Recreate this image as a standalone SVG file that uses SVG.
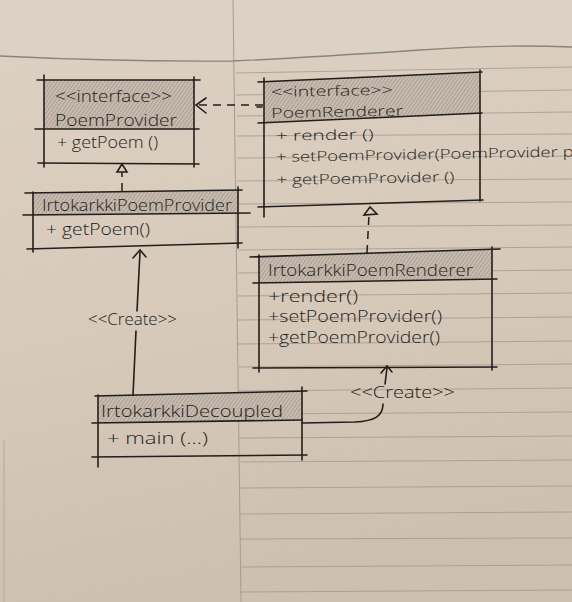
<svg xmlns="http://www.w3.org/2000/svg" width="572" height="602" viewBox="0 0 572 602">
  <defs>
    <linearGradient id="paper" x1="0" y1="0" x2="0.2" y2="1">
      <stop offset="0" stop-color="#ddd1c3"/>
      <stop offset="0.55" stop-color="#d7cabb"/>
      <stop offset="1" stop-color="#cdc0b1"/>
    </linearGradient>
    <!-- pencil shading used in the class name compartments -->
    <pattern id="hatch" patternUnits="userSpaceOnUse" width="3" height="3" patternTransform="rotate(35)">
      <line x1="0.7" y1="0" x2="0.7" y2="3" stroke="#5c544c" stroke-width="0.9" stroke-opacity="0.4"/>
    </pattern>
  </defs>
  <style>
    .ink { stroke: #231e1b; stroke-width: 1.6; fill: none; stroke-linecap: round; }
    .dash { stroke: #231e1b; stroke-width: 1.5; fill: none; stroke-dasharray: 8 6; }
    .rule { stroke: #a0968c; stroke-width: 1; stroke-opacity: 0.75; }
    .head { fill: #cbbfb2; }
    .shade { fill: url(#hatch); }
    text { font-family: "Open Sans", "Liberation Sans", sans-serif; font-weight: 300; font-size: 16px; fill: #221d1a; }
    .tight text { font-size: 14px; }
  </style>

  <!-- paper -->
  <rect width="572" height="602" fill="url(#paper)"/>
  <path d="M0,0 H572 V47 Q500,44 420,50 Q300,58 233,61 Q120,62 0,56 Z" fill="#dcd1c5"/>
  <path d="M0,56 Q120,62 233,61 Q300,58 420,50 Q500,44 572,47" fill="none" stroke="#8c8379" stroke-width="1.3"/>
  <line x1="233" y1="0" x2="241" y2="602" stroke="#a59b91" stroke-width="1"/>
  <line x1="4" y1="440" x2="4" y2="602" stroke="#b3a99e" stroke-width="1"/>
  <g id="ruling">
    <line class="rule" x1="236" y1="73" x2="572" y2="67"/>
    <line class="rule" x1="236" y1="95" x2="572" y2="90"/>
    <line class="rule" x1="237" y1="116" x2="572" y2="112"/>
    <line class="rule" x1="237" y1="136" x2="572" y2="134"/>
    <line class="rule" x1="237" y1="158" x2="572" y2="156"/>
    <line class="rule" x1="237" y1="181" x2="572" y2="179"/>
    <line class="rule" x1="237" y1="204" x2="572" y2="202"/>
    <line class="rule" x1="238" y1="227" x2="572" y2="225"/>
    <line class="rule" x1="238" y1="250" x2="572" y2="247"/>
    <line class="rule" x1="238" y1="273" x2="572" y2="270"/>
    <line class="rule" x1="238" y1="296" x2="572" y2="293"/>
    <line class="rule" x1="238" y1="320" x2="572" y2="317"/>
    <line class="rule" x1="238" y1="344" x2="572" y2="341"/>
    <line class="rule" x1="239" y1="367" x2="572" y2="364"/>
    <line class="rule" x1="239" y1="391" x2="572" y2="388"/>
    <line class="rule" x1="239" y1="414" x2="572" y2="412"/>
    <line class="rule" x1="239" y1="438" x2="572" y2="436"/>
    <line class="rule" x1="240" y1="462" x2="572" y2="460"/>
    <line class="rule" x1="240" y1="488" x2="572" y2="486"/>
    <line class="rule" x1="240" y1="514" x2="572" y2="512"/>
    <line class="rule" x1="240" y1="539" x2="572" y2="538"/>
    <line class="rule" x1="241" y1="567" x2="572" y2="565"/>
    <line class="rule" x1="241" y1="592" x2="572" y2="590"/>
  </g>

  <!-- interface PoemProvider -->
  <g id="PoemProvider">
    <rect class="head" x="44" y="80" width="150" height="49"/>
    <rect class="shade" x="44" y="80" width="150" height="49"/>
    <line class="ink" x1="37" y1="80" x2="200" y2="80"/>
    <line class="ink" x1="44" y1="75" x2="44" y2="167"/>
    <line class="ink" x1="194" y1="77" x2="194" y2="167"/>
    <line class="ink" x1="35" y1="129" x2="199" y2="129"/>
    <line class="ink" x1="38" y1="163" x2="199" y2="164"/>
    <text x="55" y="102" textLength="117" lengthAdjust="spacingAndGlyphs">&lt;&lt;interface&gt;&gt;</text>
    <text x="55" y="126" textLength="122" lengthAdjust="spacingAndGlyphs">PoemProvider</text>
    <text x="57" y="148" textLength="101" lengthAdjust="spacingAndGlyphs">+ getPoem ()</text>
  </g>

  <!-- interface PoemRenderer -->
  <g id="PoemRenderer">
    <path class="head" d="M264,81 L480,72 L480,113 L264,123 Z"/>
    <path class="shade" d="M264,81 L480,72 L480,113 L264,123 Z"/>
    <line class="ink" x1="258" y1="82" x2="482" y2="72"/>
    <line class="ink" x1="264" y1="78" x2="264" y2="217"/>
    <line class="ink" x1="480" y1="70" x2="480" y2="201"/>
    <line class="ink" x1="258" y1="123" x2="482" y2="113"/>
    <line class="ink" x1="258" y1="207" x2="483" y2="200"/>
    <line class="ink" x1="257" y1="107" x2="262" y2="107"/>
    <g class="tight" transform="rotate(-1 264 100)">
      <text x="271" y="97" textLength="122" lengthAdjust="spacingAndGlyphs">&lt;&lt;interface&gt;&gt;</text>
      <text x="271" y="118" textLength="132" lengthAdjust="spacingAndGlyphs">PoemRenderer</text>
      <text x="275" y="141" textLength="98" lengthAdjust="spacingAndGlyphs">+ render ()</text>
      <text x="275" y="162" textLength="305" lengthAdjust="spacingAndGlyphs">+ setPoemProvider(PoemProvider pr</text>
      <text x="275" y="185" textLength="178" lengthAdjust="spacingAndGlyphs">+ getPoemProvider ()</text>
    </g>
  </g>

  <!-- IrtokarkkiPoemProvider -->
  <g id="IrtokarkkiPoemProvider">
    <path class="head" d="M33,193 L238,190 L238,213 L33,215 Z"/>
    <path class="shade" d="M33,193 L238,190 L238,213 L33,215 Z"/>
    <line class="ink" x1="25" y1="193" x2="242" y2="190"/>
    <line class="ink" x1="33" y1="192" x2="33" y2="252"/>
    <line class="ink" x1="238" y1="187" x2="238" y2="248"/>
    <line class="ink" x1="23" y1="215" x2="250" y2="213"/>
    <line class="ink" x1="27" y1="249" x2="242" y2="243"/>
    <text x="42" y="211" textLength="190" lengthAdjust="spacingAndGlyphs">IrtokarkkiPoemProvider</text>
    <text x="46" y="235" textLength="104" lengthAdjust="spacingAndGlyphs">+ getPoem()</text>
  </g>

  <!-- IrtokarkkiPoemRenderer -->
  <g id="IrtokarkkiPoemRenderer">
    <path class="head" d="M259,257 L492,250 L492,279 L259,283 Z"/>
    <path class="shade" d="M259,257 L492,250 L492,279 L259,283 Z"/>
    <line class="ink" x1="250" y1="257" x2="500" y2="249"/>
    <line class="ink" x1="259" y1="255" x2="259" y2="372"/>
    <line class="ink" x1="492" y1="247" x2="492" y2="370"/>
    <line class="ink" x1="253" y1="283" x2="497" y2="279"/>
    <line class="ink" x1="253" y1="368" x2="497" y2="367"/>
    <text x="268" y="276" textLength="205" lengthAdjust="spacingAndGlyphs">IrtokarkkiPoemRenderer</text>
    <text x="268" y="302" textLength="90" lengthAdjust="spacingAndGlyphs">+render()</text>
    <text x="268" y="322" textLength="174" lengthAdjust="spacingAndGlyphs">+setPoemProvider()</text>
    <text x="268" y="343" textLength="172" lengthAdjust="spacingAndGlyphs">+getPoemProvider()</text>
  </g>

  <!-- IrtokarkkiDecoupled -->
  <g id="IrtokarkkiDecoupled">
    <path class="head" d="M98,396 L302,391 L302,420 L98,423 Z"/>
    <path class="shade" d="M98,396 L302,391 L302,420 L98,423 Z"/>
    <line class="ink" x1="95" y1="396" x2="307" y2="391"/>
    <line class="ink" x1="98" y1="395" x2="98" y2="467"/>
    <line class="ink" x1="302" y1="387" x2="302" y2="460"/>
    <line class="ink" x1="92" y1="423" x2="302" y2="420"/>
    <line class="ink" x1="92" y1="457" x2="307" y2="455"/>
    <text x="101" y="417" textLength="182" lengthAdjust="spacingAndGlyphs">IrtokarkkiDecoupled</text>
    <text x="107" y="444" textLength="101" lengthAdjust="spacingAndGlyphs">+ main (...)</text>
  </g>

  <!-- relations -->
  <g id="connectors">
    <!-- PoemRenderer uses PoemProvider -->
    <line class="dash" x1="263" y1="105" x2="198" y2="105"/>
    <path class="ink" d="M206,98 L196,105 L206,113"/>
    <!-- IrtokarkkiPoemProvider implements PoemProvider -->
    <line class="dash" x1="122" y1="191" x2="122" y2="172" stroke-dasharray="7 4"/>
    <path class="ink" d="M122,164 L117,172 L127,172 Z"/>
    <!-- IrtokarkkiPoemRenderer implements PoemRenderer -->
    <line class="dash" x1="367" y1="253" x2="369" y2="215" stroke-dasharray="8 6"/>
    <path class="ink" d="M370,207 L364,215 L377,214 Z"/>
    <!-- Decoupled creates IrtokarkkiPoemProvider -->
    <path class="ink" d="M133,395 L136,331"/>
    <path class="ink" d="M137,311 L140,252"/>
    <path class="ink" d="M133,258 L140,250 L146,257"/>
    <text x="88" y="325" textLength="89" lengthAdjust="spacingAndGlyphs">&lt;&lt;Create&gt;&gt;</text>
    <!-- Decoupled creates IrtokarkkiPoemRenderer -->
    <path class="ink" d="M302,423 L355,422 C375,421 383,416 383,404"/>
    <path class="ink" d="M385,384 L387,368"/>
    <path class="ink" d="M381,373 L387,366 L392,372"/>
    <text x="350" y="398" textLength="105" lengthAdjust="spacingAndGlyphs">&lt;&lt;Create&gt;&gt;</text>
  </g>
</svg>
